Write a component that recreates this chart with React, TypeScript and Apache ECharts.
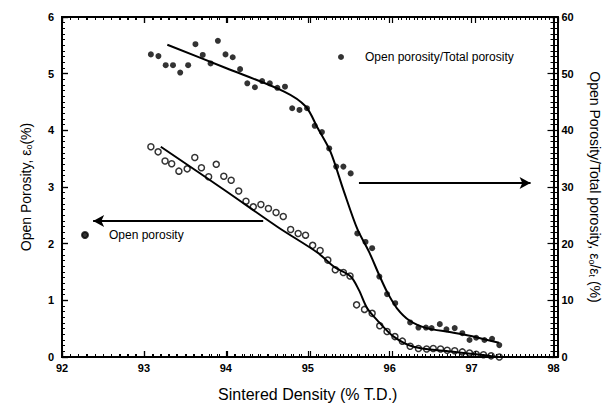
import React, { useEffect, useRef } from "react";
import * as echarts from "echarts";

// Open porosity / total porosity (%) — right axis, filled dots
const ratioX = [93.085,93.177,93.266,93.355,93.443,93.54,93.629,93.718,93.814,93.903,93.996,94.084,94.174,94.262,94.355,94.443,94.537,94.629,94.722,94.81,94.899,94.991,95.085,95.173,95.262,95.347,95.435,95.524,95.605,95.705,95.786,95.874,95.968,96.068,96.25,96.351,96.443,96.512,96.612,96.693,96.794,96.887,96.975,97.056,97.157,97.25,97.338];
const ratioY = [53.4,53.1,51.5,51.5,50.2,51.5,55.2,53.3,51.8,55.8,53.4,52.9,50.8,48.3,47.6,48.7,48.3,47.5,47.7,43.9,43.6,43.9,40.8,39.7,36.8,33.6,33.6,32.4,21.8,20.3,19.2,14.2,11.1,9.5,6.1,5.2,5.2,5.1,5.8,4.9,5.1,4.2,3.0,3.4,3.0,3.2,2.1];

// Open porosity (%) — left axis, open circles
const openX = [93.085,93.173,93.258,93.339,93.427,93.528,93.621,93.702,93.79,93.883,93.975,94.065,94.157,94.246,94.335,94.428,94.52,94.613,94.701,94.791,94.883,94.973,95.06,95.151,95.245,95.336,95.435,95.516,95.596,95.693,95.786,95.879,95.968,96.064,96.155,96.25,96.351,96.451,96.532,96.621,96.702,96.794,96.887,96.975,97.056,97.145,97.238,97.338];
const openY = [3.71,3.62,3.46,3.41,3.28,3.32,3.52,3.34,3.18,3.4,3.19,3.12,2.93,2.75,2.65,2.69,2.62,2.55,2.48,2.25,2.18,2.15,1.97,1.88,1.71,1.54,1.49,1.43,0.92,0.84,0.77,0.55,0.45,0.36,0.28,0.19,0.15,0.14,0.15,0.14,0.12,0.11,0.09,0.07,0.05,0.04,0.02,0.0];

// Fitted curves
const ratioFitX = [93.286,94.0,94.718,94.976,95.121,95.278,95.435,95.605,95.75,95.871,95.968,96.089,96.246,96.452,96.73,97.056,97.334];
const ratioFitY = [55.1,51.0,46.8,44.2,40.4,36.2,29.5,22.6,18.5,14.5,11.5,8.6,6.4,5.1,4.4,3.5,2.5];
const openFitX = [93.206,94.0,94.637,95.121,95.323,95.524,95.625,95.726,95.867,96.049,96.291,96.653,97.056,97.338];
const openFitY = [3.71,2.93,2.29,1.84,1.59,1.42,1.18,0.86,0.62,0.36,0.18,0.11,0.05,0.0];

// Arrows (data coordinates)
const leftArrow = { from: [94.456, 2.4], to: [92.38, 2.4] };
const rightArrow = { from: [95.625, 30.7], to: [97.72, 30.7] };

const xRange = { min: 92, max: 98, interval: 1 };
const yLeftRange = { min: 0, max: 6, interval: 1 };
const yRightRange = { min: 0, max: 60, interval: 10 };

const FONT = "'Liberation Sans', Arial, sans-serif";
const zip = (a: number[], b: number[]) => a.map((v, i) => [v, b[i]]);

const GRID = { left: 62, right: 52, top: 17, bottom: 54 };
const line = () => ({ show: true, onZero: false, lineStyle: { color: "#000", width: 2 } });
const tick = () => ({ show: true, inside: true, length: 6, lineStyle: { color: "#000", width: 1.2 } });
const minor = () => ({ show: true, splitNumber: 10, length: 3, lineStyle: { color: "#000", width: 1 } });
const label = (margin: number) => ({ show: true, color: "#000", fontWeight: "bold", fontSize: 11, fontFamily: FONT, margin });
const subRich = { sub: { fontSize: 9, verticalAlign: "bottom", padding: [6, 0, 0, 0], color: "#000", fontFamily: FONT } };

export default function App() {
  const ref = useRef<HTMLDivElement>(null);
  const tickRef = useRef<HTMLDivElement>(null);
  useEffect(() => {
    if (!ref.current || !tickRef.current) return;
    const chart = echarts.init(ref.current, null, { renderer: "svg" });
    const legendText = { fontSize: 12, color: "#000", fontFamily: FONT, padding: [0, 0, 0, 4] };
    chart.setOption({
      animation: false,
      grid: GRID,
      legend: [
        {
          data: [{ name: "Open porosity/Total porosity" }],
          left: 333, top: 46, itemWidth: 30, itemHeight: 6, icon: "circle",
          textStyle: legendText, selectedMode: false,
        },
        {
          data: [{ name: "Open porosity", itemStyle: { color: "#000", borderColor: "#000" } }],
          left: 76, top: 224, itemWidth: 30, itemHeight: 6, icon: "circle",
          textStyle: legendText, selectedMode: false,
        },
      ],
      xAxis: [
        {
          type: "value", position: "bottom", ...xRange, splitLine: { show: false },
          axisLine: line(), axisTick: tick(), minorTick: minor(), axisLabel: label(5),
          name: "Sintered Density (% T.D.)", nameLocation: "middle", nameGap: 29,
          nameTextStyle: { fontSize: 16, color: "#000", fontFamily: FONT },
        },
        {
          type: "value", position: "top", ...xRange, splitLine: { show: false },
          axisLine: line(), axisTick: tick(), minorTick: minor(), axisLabel: { show: false },
        },
      ],
      yAxis: [
        {
          type: "value", position: "left", ...yLeftRange, splitLine: { show: false },
          axisLine: line(), axisTick: tick(), minorTick: minor(), axisLabel: label(8),
          name: "Open Porosity, ε{sub|o}(%)", nameLocation: "middle", nameGap: 29, nameRotate: 90,
          nameTextStyle: { fontSize: 14, color: "#000", fontFamily: FONT, rich: subRich },
        },
        {
          type: "value", position: "right", ...yRightRange, splitLine: { show: false },
          axisLine: line(), axisTick: tick(), minorTick: minor(), axisLabel: label(8),
          name: "Open Porosity/Total porosity, ε{sub|o}/ε{sub|t} (%)", nameLocation: "middle", nameGap: 34, nameRotate: -90,
          nameTextStyle: { fontSize: 14, color: "#000", fontFamily: FONT, rich: subRich },
        },
      ],
      series: [
        {
          name: "Open porosity/Total porosity", type: "scatter", yAxisIndex: 1,
          data: zip(ratioX, ratioY), symbol: "circle", symbolSize: 6,
          itemStyle: { color: "#000" },
          markLine: {
            silent: true, symbol: ["none", "arrow"], symbolSize: [9, 11],
            lineStyle: { color: "#000", width: 2, type: "solid" }, label: { show: false },
            data: [[{ coord: rightArrow.from }, { coord: rightArrow.to }]],
          },
        },
        {
          name: "Open porosity", type: "scatter", yAxisIndex: 0,
          data: zip(openX, openY), symbol: "circle", symbolSize: 6,
          itemStyle: { color: "#fff", borderColor: "#000", borderWidth: 1.5 },
          markLine: {
            silent: true, symbol: ["none", "arrow"], symbolSize: [9, 11],
            lineStyle: { color: "#000", width: 2, type: "solid" }, label: { show: false },
            data: [[{ coord: leftArrow.from }, { coord: leftArrow.to }]],
          },
        },
        {
          name: "ratioFit", type: "line", yAxisIndex: 1, data: zip(ratioFitX, ratioFitY),
          showSymbol: false, smooth: 0.3, lineStyle: { color: "#000", width: 2 },
        },
        {
          name: "openFit", type: "line", yAxisIndex: 0, data: zip(openFitX, openFitY),
          showSymbol: false, smooth: 0.3, lineStyle: { color: "#000", width: 2 },
        },
      ],
    });

    // Overlay instance carrying only the axis frame and its ticks
    const ticks = echarts.init(tickRef.current, null, { renderer: "svg" });
    ticks.setOption({
      animation: false,
      grid: GRID,
      xAxis: [
        { type: "value", position: "bottom", ...xRange, splitLine: { show: false },
          axisLine: line(), axisTick: tick(), minorTick: minor(), axisLabel: { show: false } },
        { type: "value", position: "top", ...xRange, splitLine: { show: false },
          axisLine: line(), axisTick: tick(), minorTick: minor(), axisLabel: { show: false } },
      ],
      yAxis: [
        { type: "value", position: "left", ...yLeftRange, splitLine: { show: false },
          axisLine: line(), axisTick: tick(), minorTick: minor(), axisLabel: { show: false } },
        { type: "value", position: "right", ...yRightRange, splitLine: { show: false },
          axisLine: line(), axisTick: tick(), minorTick: minor(), axisLabel: { show: false } },
      ],
      series: [
        { name: "frame", type: "scatter", yAxisIndex: 1, data: zip(ratioX, ratioY), symbolSize: 0,
          itemStyle: { opacity: 0 }, silent: true },
      ],
    });
    return () => {
      ticks.dispose();
      chart.dispose();
    };
  }, []);
  return (
    <div>
      <div ref={ref} style={{ width: 610, height: 411, position: "absolute", left: 0, top: 0 }} />
      <div ref={tickRef} style={{ width: 610, height: 411, position: "absolute", left: 0, top: 0, pointerEvents: "none" }} />
    </div>
  );
}
